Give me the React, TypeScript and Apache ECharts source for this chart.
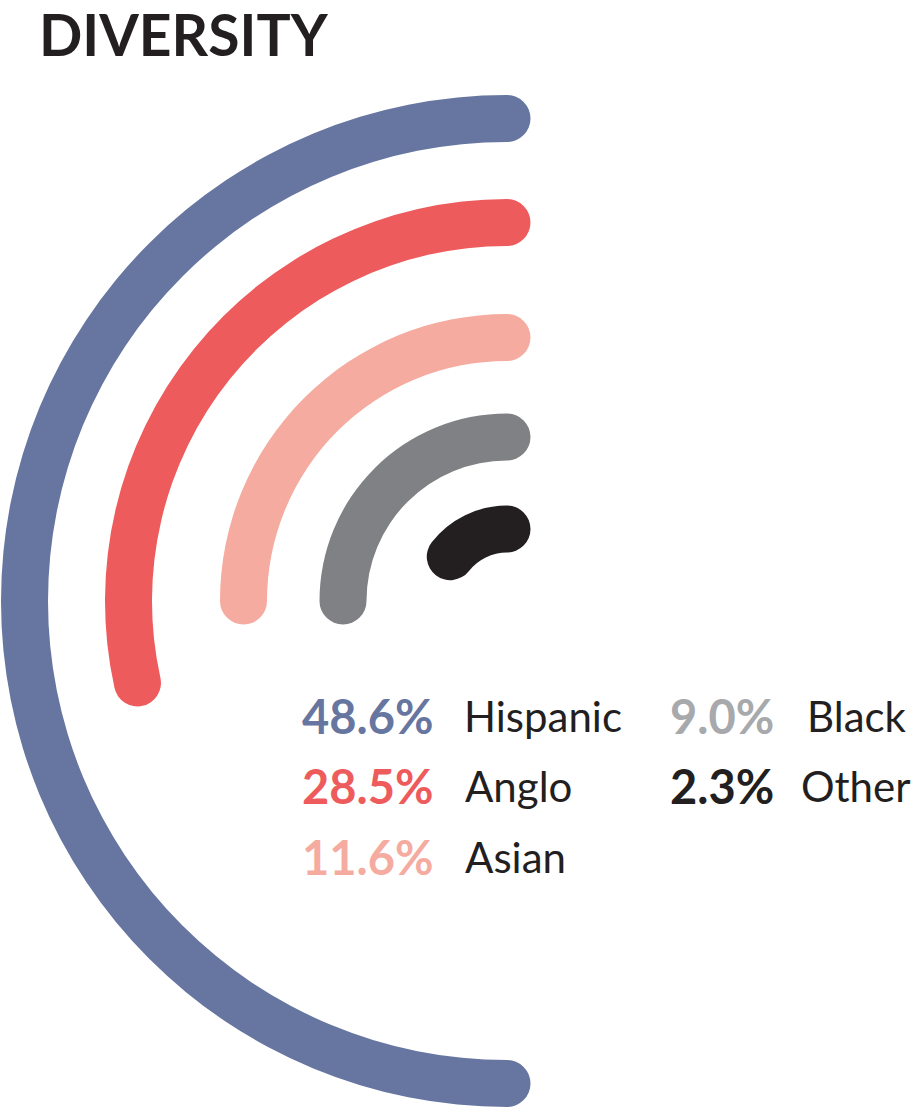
import React, { useEffect, useRef } from "react";
import * as echarts from "echarts";

// ---- data ----
const categories = ["Hispanic", "Anglo", "Asian", "Black", "Other"];
const percentLabels = ["48.6%", "28.5%", "11.6%", "9.0%", "2.3%"];
// arc length drawn for each group, in degrees
const arcDegrees = [180, 102.5, 90, 90, 52];

// ---- style / layout ----
const arcColors = ["#6776a0", "#ee5b5d", "#f5ab9f", "#808184", "#231f20"];
const percentColors = ["#6776a0", "#ee5b5d", "#f5ab9f", "#a7a9ac", "#231f20"];
const RING_RADII = [482.5, 378.5, 263.5, 164, 72];
const CENTER: [number, number] = [507, 601];
const RING_WIDTH = 47;
const FONT = "Lato, 'Open Sans', sans-serif";
// legend slots: [percentX, labelX, centerY]
const LEGEND_SLOTS: [number, number, number][] = [
  [302, 464, 716],
  [302, 465, 786],
  [302, 465, 857],
  [670, 807, 716],
  [670, 801, 786],
];

export default function App() {
  const ref = useRef<HTMLDivElement>(null);

  useEffect(() => {
    if (!ref.current) return;
    const chart = echarts.init(ref.current, undefined, { renderer: "svg" });

    const polar = RING_RADII.map((r) => ({
      center: CENTER,
      radius: [r - RING_WIDTH / 2, r + RING_WIDTH / 2],
    }));
    const angleAxis = categories.map((_, i) => ({
      polarIndex: i,
      type: "value" as const,
      min: 0,
      max: 360,
      startAngle: 90,
      clockwise: false,
      show: false,
    }));
    const radiusAxis = categories.map((c, i) => ({
      polarIndex: i,
      type: "category" as const,
      data: [c],
      show: false,
    }));
    const series = categories.map((c, i) => ({
      type: "bar" as const,
      name: c,
      coordinateSystem: "polar" as const,
      polarIndex: i,
      data: [arcDegrees[i]],
      barWidth: RING_WIDTH,
      roundCap: true,
      itemStyle: { color: arcColors[i] },
      silent: true,
    }));

    const texts: any[] = [
      {
        type: "text",
        x: 39,
        y: 34,
        style: {
          text: "DIVERSITY",
          fontFamily: FONT,
          fontWeight: 700,
          fontSize: 57,
          fill: "#231f20",
          verticalAlign: "middle",
        },
      },
    ];
    categories.forEach((c, i) => {
      const [px, lx, cy] = LEGEND_SLOTS[i];
      texts.push({
        type: "text",
        x: px,
        y: cy,
        style: {
          text: percentLabels[i],
          fontFamily: FONT,
          fontWeight: 700,
          fontSize: 47,
          fill: percentColors[i],
          verticalAlign: "middle",
        },
      });
      texts.push({
        type: "text",
        x: lx,
        y: cy,
        style: {
          text: c,
          fontFamily: FONT,
          fontWeight: 400,
          fontSize: 42,
          fill: "#231f20",
          verticalAlign: "middle",
        },
      });
    });

    chart.setOption({
      animation: false,
      backgroundColor: "#ffffff",
      polar,
      angleAxis,
      radiusAxis,
      series,
      graphic: texts,
    });

    return () => chart.dispose();
  }, []);

  return (
    <div
      ref={ref}
      style={{ position: "absolute", left: 0, top: 0, width: 915, height: 1107 }}
    />
  );
}
